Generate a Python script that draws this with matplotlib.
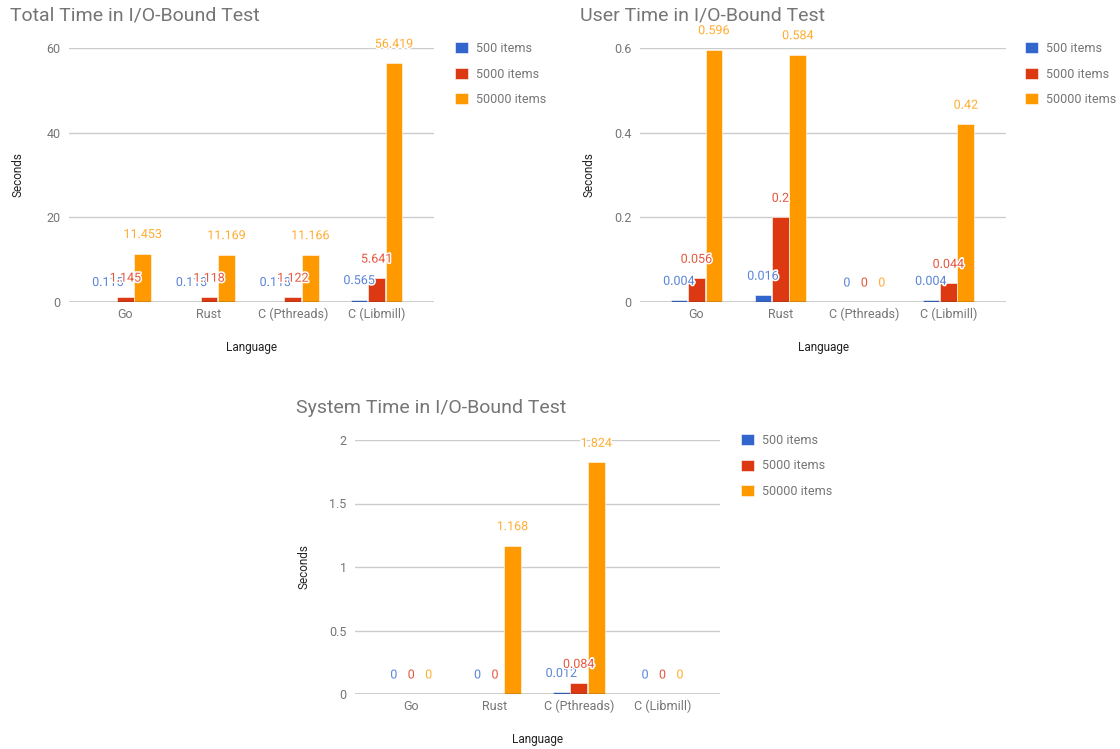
import numpy as np
import matplotlib
matplotlib.use("Agg")
import matplotlib.pyplot as plt
import matplotlib.patheffects as pe

plt.rcParams['font.family'] = ['Roboto', 'DejaVu Sans']

languages = ["Go", "Rust", "C (Pthreads)", "C (Libmill)"]
series_names = ["500 items", "5000 items", "50000 items"]
colors = ["#3366cc", "#dc3912", "#ff9900"]
# annotation text is drawn a touch lighter than the bars
label_colors = ["#5a84d8", "#e5573d", "#ffad33"]

total_500 = [0.115, 0.113, 0.113, 0.565]
total_5000 = [1.145, 1.118, 1.122, 5.641]
total_50000 = [11.453, 11.169, 11.166, 56.419]

user_500 = [0.004, 0.016, 0, 0.004]
user_5000 = [0.056, 0.2, 0, 0.044]
user_50000 = [0.596, 0.584, 0, 0.42]

sys_500 = [0, 0, 0.012, 0]
sys_5000 = [0, 0, 0.084, 0]
sys_50000 = [0, 1.168, 1.824, 0]

W, H = 1120, 749
fig = plt.figure(figsize=(W / 100, H / 100), dpi=100)


def px_axes(left, top, right, bottom):
    return fig.add_axes([left / W, 1 - bottom / H, (right - left) / W, (bottom - top) / H])


def draw_chart(box, title, title_xy, series, yticks, ylabel_x, legend_xy):
    ax = px_axes(*box)
    x = np.arange(len(languages))
    step = 0.208
    handles = []
    for i, vals in enumerate(series):
        pos = x + (i - 1) * step
        bars = ax.bar(pos, vals, width=0.2, color=colors[i], edgecolor="white",
                      linewidth=0.4, zorder=3, label=series_names[i])
        handles.append(bars)
        for xp, v in zip(pos, vals):
            ax.annotate(f"{v:g}", (xp, v), xytext=(0, 13.7), textcoords="offset points",
                        ha="center", va="center", fontsize=9, color=label_colors[i], zorder=5,
                        path_effects=[pe.withStroke(linewidth=2.2, foreground="white")])
    ax.set_xlim(-0.672, 3.686)
    ax.set_ylim(yticks[0], yticks[-1])
    ax.set_yticks(yticks)
    ax.set_yticklabels([f"{t:g}" for t in yticks])
    ax.set_xticks(x)
    ax.set_xticklabels(languages)
    ax.grid(axis="y", color="#cccccc", linewidth=1, zorder=0)
    ax.axhline(0, color="#333333", linewidth=1, zorder=4)
    for s in ax.spines.values():
        s.set_visible(False)
    ax.tick_params(length=0, labelsize=9, colors="#757575")
    ax.tick_params(axis="y", pad=6)
    ax.tick_params(axis="x", pad=4)

    l, t, r, b = box
    fig.text(title_xy[0] / W, 1 - title_xy[1] / H, title, fontsize=14, color="#757575",
             ha="left", va="center")
    fig.text(ylabel_x / W, 1 - (t + b) / 2 / H, "Seconds", rotation=90, fontsize=8.5,
             color="#222222", ha="center", va="center")
    fig.text((l + r) / 2 / W, 1 - (b + 46) / H, "Language", fontsize=8.5,
             color="#222222", ha="center", va="center")
    ax.legend(handles=handles, loc="upper left",
              bbox_to_anchor=(legend_xy[0] / W, 1 - legend_xy[1] / H),
              bbox_transform=fig.transFigure, frameon=False, fontsize=9,
              labelcolor="#757575", handlelength=1.0, handleheight=1.0,
              handletextpad=0.65, labelspacing=1.0, borderpad=0, borderaxespad=0)
    return ax


draw_chart((69, 48, 434, 302), "Total Time in I/O-Bound Test", (10, 16),
           [total_500, total_5000, total_50000], [0, 20, 40, 60], 18, (455, 42))
draw_chart((640, 48, 1006, 302), "User Time in I/O-Bound Test", (580, 16),
           [user_500, user_5000, user_50000], [0, 0.2, 0.4, 0.6], 589, (1025, 42))
draw_chart((355, 440, 720, 694), "System Time in I/O-Bound Test", (296, 408),
           [sys_500, sys_5000, sys_50000], [0, 0.5, 1, 1.5, 2], 304, (741, 434))

fig.savefig("out.png", dpi=100, facecolor="white")
